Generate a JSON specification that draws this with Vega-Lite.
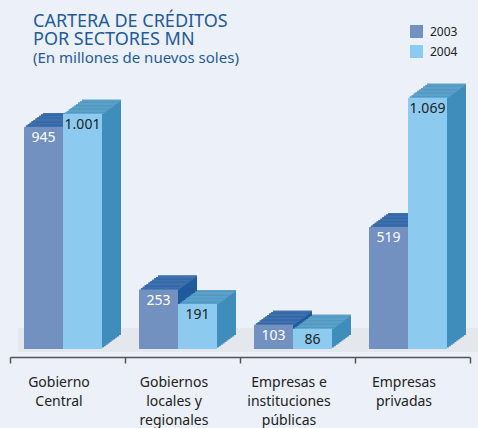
{
  "$schema": "https://vega.github.io/schema/vega-lite/v6.json",
  "width": 460,
  "height": 270,
  "autosize": {"type": "none"},
  "padding": {"left": 10, "top": 79, "right": 8, "bottom": 79},
  "background": "#ecf0f8",
  "config": {
    "view": {"stroke": null},
    "font": "Noto Sans"
  },
  "title": {
    "text": ["CARTERA DE CRÉDITOS", "POR SECTORES MN"],
    "subtitle": "(En millones de nuevos soles)",
    "anchor": "start",
    "frame": "group",
    "dx": 23,
    "dy": 54,
    "offset": 13,
    "font": "Noto Sans",
    "fontSize": 18,
    "fontWeight": "normal",
    "lineHeight": 18,
    "color": "#1f5b9b",
    "subtitleFont": "Noto Sans",
    "subtitleFontSize": 15,
    "subtitleColor": "#1f5b9b",
    "subtitlePadding": 2
  },
  "data": {
    "values": [
      {"sector": "Gobierno|Central", "year": "2003", "value": 945, "label": "945"},
      {"sector": "Gobierno|Central", "year": "2004", "value": 1001, "label": "1.001"},
      {"sector": "Gobiernos|locales y|regionales", "year": "2003", "value": 253, "label": "253"},
      {"sector": "Gobiernos|locales y|regionales", "year": "2004", "value": 191, "label": "191"},
      {"sector": "Empresas e|instituciones|públicas", "year": "2003", "value": 103, "label": "103"},
      {"sector": "Empresas e|instituciones|públicas", "year": "2004", "value": 86, "label": "86"},
      {"sector": "Empresas|privadas", "year": "2003", "value": 519, "label": "519"},
      {"sector": "Empresas|privadas", "year": "2004", "value": 1069, "label": "1.069"}
    ]
  },
  "encoding": {
    "x": {
      "field": "sector", "type": "nominal", "sort": null,
      "scale": {"paddingInner": 0, "paddingOuter": 0},
      "axis": {
        "title": null, "orient": "bottom", "offset": 8, "labelAngle": 0,
        "domainColor": "#555", "domainWidth": 1.5,
        "tickColor": "#555", "tickWidth": 1.5, "tickSize": 6, "tickBand": "extent",
        "labelPadding": 12, "labelFontSize": 14, "labelColor": "#222", "labelFont": "Noto Sans",
        "labelLineHeight": 19, "labelBaseline": "top", "labelOffset": -9,
        "labelExpr": "split(datum.label, '|')"
      }
    },
    "y": {"field": "value", "type": "quantitative", "scale": {"domain": [0, 1149]}, "axis": null}
  },
  "resolve": {"scale": {"xOffset": "independent"}},
  "layer": [
    {
      "mark": {"type": "rule", "color": "#e4e7eb", "strokeWidth": 24, "yOffset": -9},
      "encoding": {"x": {"value": 8}, "x2": {"value": 468}, "y": {"datum": 0}}
    },
    {"mark": {"type": "bar", "yOffset": -14, "y2Offset": -14}, "encoding": {"xOffset": {"field": "year", "scale": {"paddingInner": 0, "paddingOuter": 0.4744, "align": 0.8919}}, "color": {"condition": {"test": "datum.year === '2003'", "value": "#1f5b9c"}, "value": "#3f8dbb"}}},
    {"mark": {"type": "bar", "yOffset": -14, "y2Offset": -12.5}, "encoding": {"xOffset": {"field": "year", "scale": {"paddingInner": 0, "paddingOuter": 0.4744, "align": 0.8919}}, "y2": {"field": "value"}, "color": {"condition": {"test": "datum.year === '2003'", "value": "#4070ae"}, "value": "#5da0c8"}}},
    {"mark": {"type": "bar", "yOffset": -12.6, "y2Offset": -12.6}, "encoding": {"xOffset": {"field": "year", "scale": {"paddingInner": 0, "paddingOuter": 0.4744, "align": 0.8405}}, "color": {"condition": {"test": "datum.year === '2003'", "value": "#1f5b9c"}, "value": "#3f8dbb"}}},
    {"mark": {"type": "bar", "yOffset": -12.6, "y2Offset": -11.1}, "encoding": {"xOffset": {"field": "year", "scale": {"paddingInner": 0, "paddingOuter": 0.4744, "align": 0.8405}}, "y2": {"field": "value"}, "color": {"condition": {"test": "datum.year === '2003'", "value": "#4070ae"}, "value": "#5da0c8"}}},
    {"mark": {"type": "bar", "yOffset": -11.2, "y2Offset": -11.2}, "encoding": {"xOffset": {"field": "year", "scale": {"paddingInner": 0, "paddingOuter": 0.4744, "align": 0.7892}}, "color": {"condition": {"test": "datum.year === '2003'", "value": "#1f5b9c"}, "value": "#3f8dbb"}}},
    {"mark": {"type": "bar", "yOffset": -11.2, "y2Offset": -9.7}, "encoding": {"xOffset": {"field": "year", "scale": {"paddingInner": 0, "paddingOuter": 0.4744, "align": 0.7892}}, "y2": {"field": "value"}, "color": {"condition": {"test": "datum.year === '2003'", "value": "#4070ae"}, "value": "#5da0c8"}}},
    {"mark": {"type": "bar", "yOffset": -9.8, "y2Offset": -9.8}, "encoding": {"xOffset": {"field": "year", "scale": {"paddingInner": 0, "paddingOuter": 0.4744, "align": 0.7378}}, "color": {"condition": {"test": "datum.year === '2003'", "value": "#1f5b9c"}, "value": "#3f8dbb"}}},
    {"mark": {"type": "bar", "yOffset": -9.8, "y2Offset": -8.3}, "encoding": {"xOffset": {"field": "year", "scale": {"paddingInner": 0, "paddingOuter": 0.4744, "align": 0.7378}}, "y2": {"field": "value"}, "color": {"condition": {"test": "datum.year === '2003'", "value": "#4070ae"}, "value": "#5da0c8"}}},
    {"mark": {"type": "bar", "yOffset": -8.4, "y2Offset": -8.4}, "encoding": {"xOffset": {"field": "year", "scale": {"paddingInner": 0, "paddingOuter": 0.4744, "align": 0.6865}}, "color": {"condition": {"test": "datum.year === '2003'", "value": "#1f5b9c"}, "value": "#3f8dbb"}}},
    {"mark": {"type": "bar", "yOffset": -8.4, "y2Offset": -6.9}, "encoding": {"xOffset": {"field": "year", "scale": {"paddingInner": 0, "paddingOuter": 0.4744, "align": 0.6865}}, "y2": {"field": "value"}, "color": {"condition": {"test": "datum.year === '2003'", "value": "#4070ae"}, "value": "#5da0c8"}}},
    {"mark": {"type": "bar", "yOffset": -7, "y2Offset": -7}, "encoding": {"xOffset": {"field": "year", "scale": {"paddingInner": 0, "paddingOuter": 0.4744, "align": 0.6351}}, "color": {"condition": {"test": "datum.year === '2003'", "value": "#1f5b9c"}, "value": "#3f8dbb"}}},
    {"mark": {"type": "bar", "yOffset": -7, "y2Offset": -5.5}, "encoding": {"xOffset": {"field": "year", "scale": {"paddingInner": 0, "paddingOuter": 0.4744, "align": 0.6351}}, "y2": {"field": "value"}, "color": {"condition": {"test": "datum.year === '2003'", "value": "#4070ae"}, "value": "#5da0c8"}}},
    {"mark": {"type": "bar", "yOffset": -5.6, "y2Offset": -5.6}, "encoding": {"xOffset": {"field": "year", "scale": {"paddingInner": 0, "paddingOuter": 0.4744, "align": 0.5838}}, "color": {"condition": {"test": "datum.year === '2003'", "value": "#1f5b9c"}, "value": "#3f8dbb"}}},
    {"mark": {"type": "bar", "yOffset": -5.6, "y2Offset": -4.1}, "encoding": {"xOffset": {"field": "year", "scale": {"paddingInner": 0, "paddingOuter": 0.4744, "align": 0.5838}}, "y2": {"field": "value"}, "color": {"condition": {"test": "datum.year === '2003'", "value": "#4070ae"}, "value": "#5da0c8"}}},
    {"mark": {"type": "bar", "yOffset": -4.2, "y2Offset": -4.2}, "encoding": {"xOffset": {"field": "year", "scale": {"paddingInner": 0, "paddingOuter": 0.4744, "align": 0.5324}}, "color": {"condition": {"test": "datum.year === '2003'", "value": "#1f5b9c"}, "value": "#3f8dbb"}}},
    {"mark": {"type": "bar", "yOffset": -4.2, "y2Offset": -2.7}, "encoding": {"xOffset": {"field": "year", "scale": {"paddingInner": 0, "paddingOuter": 0.4744, "align": 0.5324}}, "y2": {"field": "value"}, "color": {"condition": {"test": "datum.year === '2003'", "value": "#4070ae"}, "value": "#5da0c8"}}},
    {"mark": {"type": "bar", "yOffset": -2.8, "y2Offset": -2.8}, "encoding": {"xOffset": {"field": "year", "scale": {"paddingInner": 0, "paddingOuter": 0.4744, "align": 0.4811}}, "color": {"condition": {"test": "datum.year === '2003'", "value": "#1f5b9c"}, "value": "#3f8dbb"}}},
    {"mark": {"type": "bar", "yOffset": -2.8, "y2Offset": -1.3}, "encoding": {"xOffset": {"field": "year", "scale": {"paddingInner": 0, "paddingOuter": 0.4744, "align": 0.4811}}, "y2": {"field": "value"}, "color": {"condition": {"test": "datum.year === '2003'", "value": "#4070ae"}, "value": "#5da0c8"}}},
    {"mark": {"type": "bar", "yOffset": -1.4, "y2Offset": -1.4}, "encoding": {"xOffset": {"field": "year", "scale": {"paddingInner": 0, "paddingOuter": 0.4744, "align": 0.4297}}, "color": {"condition": {"test": "datum.year === '2003'", "value": "#1f5b9c"}, "value": "#3f8dbb"}}},
    {"mark": {"type": "bar", "yOffset": -1.4, "y2Offset": 0.1}, "encoding": {"xOffset": {"field": "year", "scale": {"paddingInner": 0, "paddingOuter": 0.4744, "align": 0.4297}}, "y2": {"field": "value"}, "color": {"condition": {"test": "datum.year === '2003'", "value": "#4070ae"}, "value": "#5da0c8"}}},
    {
      "mark": {"type": "bar"},
      "encoding": {
        "xOffset": {"field": "year", "scale": {"paddingInner": 0, "paddingOuter": 0.4744, "align": 0.3784}},
        "color": {
          "field": "year", "type": "nominal",
          "scale": {"domain": ["2003", "2004"], "range": ["#7290c0", "#8ccbef"]},
          "legend": {
            "title": null, "orient": "none", "legendX": 400, "legendY": -54,
            "symbolType": "square", "symbolSize": 169, "symbolStrokeWidth": 0,
            "labelFontSize": 12, "labelColor": "#222", "labelFont": "Noto Sans",
            "labelOffset": 7, "rowPadding": 7
          }
        }
      }
    },
    {
      "mark": {"type": "text", "baseline": "top", "dy": 4, "fontSize": 14, "font": "Noto Sans"},
      "encoding": {
        "xOffset": {"field": "year", "scale": {"type": "point", "padding": 0.9744, "align": 0.4408}},
        "text": {"field": "label"},
        "color": {"condition": {"test": "datum.year === '2003'", "value": "#ffffff"}, "value": "#222222"}
      }
    }
  ]
}
